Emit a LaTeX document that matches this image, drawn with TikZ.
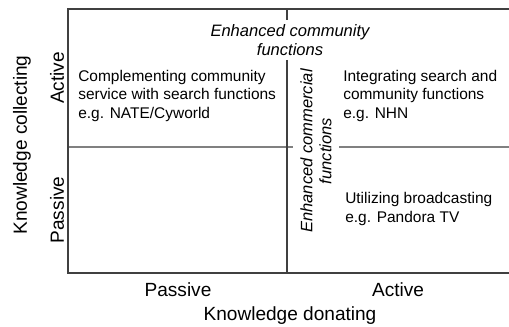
\documentclass[tikz,border=0pt]{standalone}
\usepackage{fontspec}
\setmainfont{Liberation Sans}
\usetikzlibrary{positioning}

\begin{document}
\begin{tikzpicture} [
    x=0.75pt, y=-0.75pt,
    axis/.style={draw=black!75, line width=1pt},
    divide/.style={draw=black!50, line width=1pt},
    quad/.style={anchor=west, align=left, inner sep=0pt, font=\fontsize{11.6}{13.9}\selectfont},
    trend/.style={align=center, font=\fontsize{12.4}{14.3}\selectfont\itshape},
    level/.style={font=\fontsize{14.3}{17}\selectfont},
    ]
    \useasboundingbox (0,0) rectangle (509,327);

    %Nodes
    \coordinate (tl) at (68,9);
    \coordinate (tr) at (509,9);
    \coordinate (bl) at (68,273);
    \coordinate (br) at (509,273);
    \coordinate (vtop) at (287,9);
    \coordinate (vbot) at (287,273);
    \coordinate (hl) at (68,147);
    \coordinate (hr) at (509,147);

    \node[trend, inner sep=3pt]  (enhcomm) at (290,40) {Enhanced community\\functions};
    \node[trend, rotate=90, inner xsep=3pt, inner ysep=5.5pt] (enhcomc) at (316,151) {Enhanced commercial\\functions};

    \node[quad]  (cnate)  at (78,96)  {Complementing community\\service with search functions\\e.g. NATE/Cyworld};
    \node[quad]  (inhn)   at (343,96) {Integrating search and\\community functions\\e.g. NHN};
    \node[quad]  (ubroad) at (345,209) {Utilizing broadcasting\\e.g. Pandora TV};

    \node[level, rotate=90] (kcoll)  at (22,145) {Knowledge collecting};
    \node[level, rotate=90] (cact)   at (57,78)  {Active};
    \node[level, rotate=90] (cpas)   at (57,210) {Passive};
    \node[level]            (dpas)   at (178,290) {Passive};
    \node[level]            (dact)   at (398,290) {Active};
    \node[level]            (kdon)   at (290,316) {Knowledge donating};

    %Lines
    \draw[divide] (hl) -- (hl -| enhcomc.north);
    \draw[divide] (hl -| enhcomc.south) -- (hr);
    \draw[axis] (vtop) -- (vtop |- enhcomm.north);
    \draw[axis] (vtop |- enhcomm.south) -- (vbot);
    \draw[axis] (tr) -- (tl) -- (bl) -- (br);
\end{tikzpicture}
\end{document}
